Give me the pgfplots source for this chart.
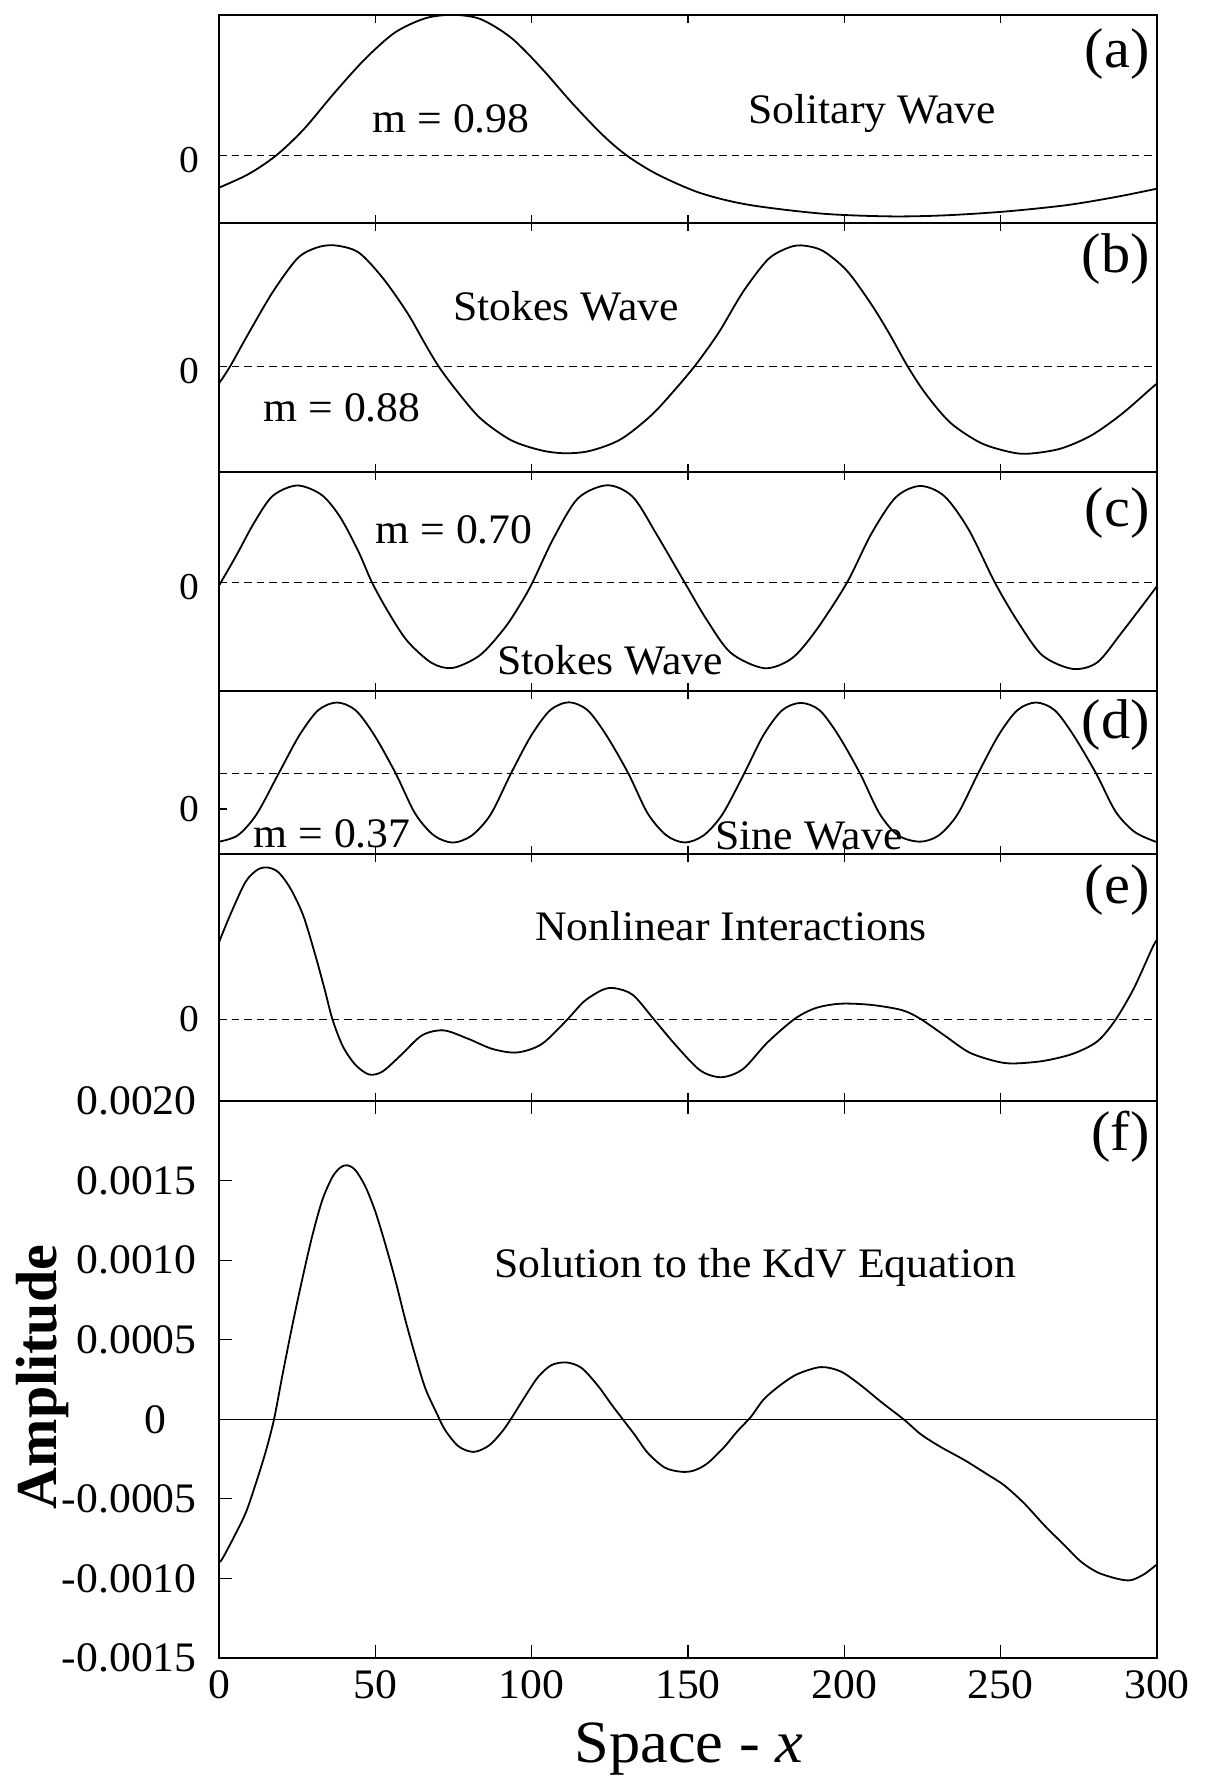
\documentclass[border=0pt]{standalone}
\usepackage{pgfplots}
\pgfplotsset{compat=1.18}
\usepackage{fontspec}
\setmainfont[FakeStretch=1.04]{Liberation Serif}
\newfontfamily\ampfont{Liberation Serif}
\newcommand\fs[1]{\fontsize{#1}{#1}\selectfont}
\pgfplotsset{
 panel/.style={scale only axis, width=469pt, xmin=0, xmax=300, anchor=south west,
   xtick={50,100,150,200,250}, xticklabels={}, tick align=inside, major tick length=4pt,
   axis line style={line width=1.2pt}, every tick/.append style={line width=0.6pt, black},
   ytick={0}, yticklabels={0}, ytick pos=left},
 zlab/.style={yticklabel style={font=\fs{19}, inner sep=0pt, xshift=-9.5pt, yshift=#1}},
 curve/.style={black, line width=0.9pt, smooth, mark=none},
 zline/.style={black, line width=0.6pt, dash pattern=on 3.75pt off 2.5pt, mark=none},
}
\begin{document}
\begin{tikzpicture}
\path[use as bounding box] (0,0) rectangle (602pt,890pt);
% (a)
\begin{axis}[panel, zlab=-2pt, at={(109.5pt,778.5pt)}, height=104pt, ymin=-67.3, ymax=140.7]
\addplot[zline] coordinates {(0,0) (300,0)};
\addplot[curve] coordinates {(0,-32) (9.4,-18.5) (18.2,0) (27,26) (36.7,62) (46.5,96) (56.2,123) (66,137.4) (74.8,140.8) (83.6,136.6) (93.4,118) (103,88) (112.9,52.7) (122.7,20.7) (130.5,0) (140.2,-18.7) (153.9,-37.3) (169.5,-49.2) (193,-58) (214.5,-60.7) (232,-59.7) (251.6,-55.8) (271,-49.5) (286.7,-41.4) (300,-33)};
\end{axis}
% (b)
\begin{axis}[panel, zlab=-2pt, at={(109.5pt,654pt)}, height=124.5pt, ymin=-105.3, ymax=143.7]
\addplot[zline] coordinates {(0,0) (300,0)};
\addplot[curve] coordinates {(0,-16.7) (3.5,0) (9.4,33) (17.2,74.7) (25,108) (30.9,118.7) (36.7,121.4) (44.5,114.5) (52.3,89) (60.2,54) (66,22.3) (70.3,0) (75.8,-23.2) (83.6,-51.7) (93.4,-73.5) (103.1,-83.7) (110.9,-86.6) (118.8,-84.1) (128.5,-72.6) (138.3,-48.5) (146.1,-22) (152.5,2) (159.8,34) (167.6,74.8) (175.4,106.7) (181.3,118) (186.1,121.3) (193,116) (200.8,96) (208.6,62.5) (214.5,32.4) (220.3,0) (226.2,-27.9) (234,-56.3) (243.8,-76.5) (253.5,-85.7) (259.4,-86.9) (269.1,-82) (278.9,-68.9) (288.7,-47.4) (298.4,-21) (300,-17)};
\end{axis}
% (c)
\begin{axis}[panel, zlab=-2pt, at={(109.5pt,544.5pt)}, height=109.5pt, ymin=-108.1, ymax=110.9]
\addplot[zline] coordinates {(0,0) (300,0)};
\addplot[curve] coordinates {(0,-2.7) (5.5,27.2) (11.3,60.5) (17.2,87) (25,97.4) (32.8,88) (38.7,66) (44.5,32) (49,0) (54.3,-30) (60.2,-58) (68,-80) (74.8,-85) (83.6,-72) (91.4,-44.9) (96.3,-21.7) (100.2,0) (107,44.7) (114.8,84.5) (124.2,97.6) (132.4,85.8) (140.2,47.2) (149,0) (155.9,-36.5) (163.7,-70) (174.4,-85.3) (183.2,-75.5) (191,-47.3) (200.8,0) (208.6,48.9) (216.4,85.4) (224.2,96.9) (232,86.7) (239.8,53.1) (248.2,0) (255.5,-38.9) (263.3,-72.4) (273,-86) (280.9,-79.5) (288.7,-49.7) (298.4,-10) (300,-3)};
\end{axis}
% (d)
\begin{axis}[panel, zlab=0pt, at={(109.5pt,463.1pt)}, height=81.4pt, ymin=-80.4, ymax=82.3, ytick={-35.7}]
\addplot[zline] coordinates {(0,0) (300,0)};
\addplot[curve] coordinates {(0,-68.3) (6,-62) (12,-41) (19.1,0) (25.7,38) (31.7,63) (37.7,70.8) (43.7,63) (49.7,38) (56.5,0) (62.7,-40) (68.7,-62) (74.8,-69.2) (80.9,-62) (86.9,-41) (93.4,0) (99.9,38) (105.9,63) (111.9,71) (117.9,63) (123.9,38) (130.9,0) (137.1,-40) (143.1,-62) (149,-69.1) (155,-62) (161,-41) (168,0) (174.1,38) (180.1,63) (186.1,70.4) (192.1,63) (198.1,38) (205,0) (211.2,-40) (217.2,-62) (224.2,-68.3) (230.2,-62) (236.2,-41) (242.8,0) (249.3,38) (255.3,63) (261.3,70.8) (267.3,63) (273.3,38) (280.5,0) (286.7,-38) (292.6,-58) (298.4,-67) (300,-68.5)};
\end{axis}
% (e)
\begin{axis}[panel, zlab=0pt, at={(109.5pt,339.5pt)}, height=123.6pt, ymin=-81.5, ymax=165.75]
\addplot[zline] coordinates {(0,0) (300,0)};
\addplot[curve] coordinates {(0,77.3) (3.5,104) (8.4,137.2) (12.3,149.8) (15.6,152) (19.1,147) (23,130.2) (27,103.5) (30.9,63.3) (33.8,30) (36.3,0) (39.6,-26.8) (43.6,-45.2) (48,-55) (52.3,-52) (58.2,-35.6) (65,-15.7) (71.9,-10.9) (79.7,-19.3) (87.5,-29.5) (95.3,-33) (103.1,-24.8) (110.9,-1.7) (116.8,18.2) (122.7,29.7) (126.6,31.3) (132.4,24.5) (139.3,-0.6) (146.1,-25.8) (153.9,-50.9) (160.7,-57.7) (167.6,-49.5) (175.4,-23) (184.2,0.8) (191,11.6) (198.8,15.8) (208.6,14.6) (218.4,9.4) (224.2,0.9) (232,-15.9) (239.8,-32.7) (247.7,-41.2) (253.5,-44) (263.3,-41.6) (273,-34.4) (280.9,-21.9) (286.7,-0.4) (292.6,31.2) (298.4,71) (300,80)};
\end{axis}
% (f)
\begin{axis}[panel, at={(109.5pt,61pt)}, height=278.5pt, ymin=-0.0015, ymax=0.0020,
  major tick length=6.5pt,
  xtick={0,50,100,150,200,250,300}, xticklabels={0,50,100,150,200,250,300},
  xticklabel style={font=\fs{21}, inner sep=0pt, yshift=-6pt},
  ytick={-0.0015,-0.0010,-0.0005,0,0.0005,0.0010,0.0015,0.0020},
  yticklabels={-0.0015,-0.0010,-0.0005,{0\kern15pt},0.0005,0.0010,0.0015,0.0020},
  yticklabel style={font=\fs{21}, inner sep=0pt, xshift=-11pt},
  scaled y ticks=false]
\addplot[black, line width=0.7pt, mark=none] coordinates {(0,0) (300,0)};
\addplot[curve] coordinates {(0,-0.000895) (0.9,-0.000882) (4.3,-0.000758) (8.5,-0.00059) (11.7,-0.000408) (14.9,-0.000206) (17.6,0) (20.2,0.000268) (23.4,0.000585) (26.6,0.000878) (29.8,0.00115) (33,0.001375) (36.2,0.00152) (38.8,0.001582) (41,0.001596) (43.6,0.001566) (46.8,0.001463) (50,0.001305) (53.2,0.0011) (56.4,0.000874) (59.6,0.000624) (62.8,0.000398) (66,0.000194) (69.7,0.000035) (72.3,-0.000067) (76.6,-0.00017) (81.4,-0.000205) (86.2,-0.000167) (90.4,-0.000081) (93.6,0.000009) (97.9,0.000144) (102.1,0.000267) (106.4,0.000341) (111.2,0.000357) (116,0.000322) (121.3,0.000208) (125.5,0.000094) (129.3,-0.000004) (133,-0.000099) (137.2,-0.000213) (142.6,-0.000304) (147.9,-0.00033) (151.9,-0.000322) (156.2,-0.000277) (161.5,-0.000176) (165.8,-0.000075) (170.1,0.000015) (174.3,0.000127) (179.7,0.000217) (185,0.000284) (192.5,0.000328) (198.9,0.0003) (205.3,0.000213) (211.7,0.00011) (219.2,-0.000004) (224.5,-0.000095) (230.9,-0.000175) (238.4,-0.000256) (245.8,-0.000347) (251.2,-0.000416) (257.6,-0.00053) (264,-0.000667) (270.4,-0.000792) (275.7,-0.000895) (281.1,-0.000963) (287.5,-0.001003) (291.7,-0.001011) (296,-0.000972) (299.7,-0.000916)};
\end{axis}
% panel labels
\foreach \lab/\yy in {a/54,b/259,c/513,d/725,e/890,f/1137}{
  \node[anchor=east, inner sep=0pt, font=\fs{28}] at (575pt,{(1780-\yy)/2*1pt}) {(\lab)};
}
% annotations (baseline anchored)
\begin{scope}[every node/.style={anchor=base, inner sep=0pt, font=\fs{21}}]
\node at (436pt,828pt) {Solitary Wave};
\node at (225.5pt,823.7pt) {m = 0.98};
\node at (283pt,729.7pt) {Stokes Wave};
\node at (171pt,679.2pt) {m = 0.88};
\node at (227pt,618.4pt) {m = 0.70};
\node at (305pt,552.7pt) {Stokes Wave};
\node at (166pt,466.3pt) {m = 0.37};
\node at (404.5pt,465.2pt) {Sine Wave};
\node at (365.5pt,419.5pt) {Nonlinear Interactions};
\node at (377.5pt,251pt) {Solution to the KdV Equation};
\end{scope}
\node[anchor=base, inner sep=0pt, font=\fs{30}] at (344.5pt,9pt) {Space - \textit{x}};
\node[anchor=base, inner sep=0pt, rotate=90, font=\ampfont\bfseries\fs{29}] at (28.3pt,201.5pt) {Amplitude};
\end{tikzpicture}
\end{document}
